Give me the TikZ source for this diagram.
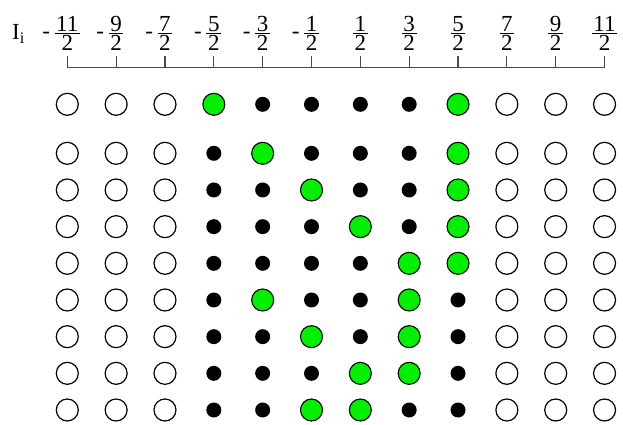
\documentclass[tikz,border=0pt]{standalone}
\usepackage{amsmath}
\usepackage{fontspec}
\setmainfont{Liberation Serif}
\usetikzlibrary{positioning}

\definecolor{spingreen}{RGB}{0,240,0}

\begin{document}
\begin{tikzpicture}[
    x=1pt, y=-1pt,
    lab/.style={font=\fontsize{23}{27}\selectfont, inner sep=0pt},
    num/.style={lab, anchor=base, inner xsep=1.4pt},
    axis/.style={draw=black!70, line width=1.1pt},
    empty/.style={draw, circle, line width=1.2pt, minimum size=22pt, inner sep=0pt},
    up/.style={draw, circle, fill=spingreen, line width=1.1pt, minimum size=22pt, inner sep=0pt},
    full/.style={circle, fill=black, minimum size=15pt, inner sep=0pt}
]
\useasboundingbox (0,0) rectangle (623,424);

% Eje de espines nucleares
\node[lab, anchor=base west] (ilabel) at (12,39.5) {I$_{\text{i}}$};
\foreach \n [count=\k] in {11,9,7,5,3,1,1,3,5,7,9,11} {
  \pgfmathsetmacro\xx{67.3+(\k-1)*48.84}
  \node[num] (num\k) at (\xx,31) {\n};
  \node[num] (den\k) at (\xx,50.5) {2};
  \draw[line width=0.8pt] ([yshift=-2.8pt]num\k.base west) -- ([yshift=-2.8pt]num\k.base east);
  \ifnum\k<7
    \node[lab, anchor=base east] (neg\k) at ([xshift=-4.5pt, yshift=-7.5pt]num\k.base west) {-};
  \fi
  \coordinate (tick\k) at (\xx,56);
  \draw[axis] (tick\k) -- (\xx,67.3);
}
\draw[axis] (67.3,67.3) -- (604.5,67.3);

% Filas de ocupacion: o = vacio, g = verde, b = lleno
\foreach \row [count=\r] in {
    {o,o,o,g,b,b,b,b,g,o,o,o},
    {o,o,o,b,g,b,b,b,g,o,o,o},
    {o,o,o,b,b,g,b,b,g,o,o,o},
    {o,o,o,b,b,b,g,b,g,o,o,o},
    {o,o,o,b,b,b,b,g,g,o,o,o},
    {o,o,o,b,g,b,b,g,b,o,o,o},
    {o,o,o,b,b,g,b,g,b,o,o,o},
    {o,o,o,b,b,b,g,g,b,o,o,o},
    {o,o,o,b,b,g,g,b,b,o,o,o}} {
  \pgfmathsetmacro\yy{\r==1 ? 104.3 : 153.3+(\r-2)*36.67}
  \foreach \s [count=\k] in \row {
    \pgfmathsetmacro\xx{67.3+(\k-1)*48.84}
    \if\s o \node[empty] (c\r-\k) at (\xx,\yy) {};\fi
    \if\s g \node[up] (c\r-\k) at (\xx,\yy) {};\fi
    \if\s b \node[full] (c\r-\k) at (\xx,\yy) {};\fi
  }
}

\end{tikzpicture}
\end{document}
